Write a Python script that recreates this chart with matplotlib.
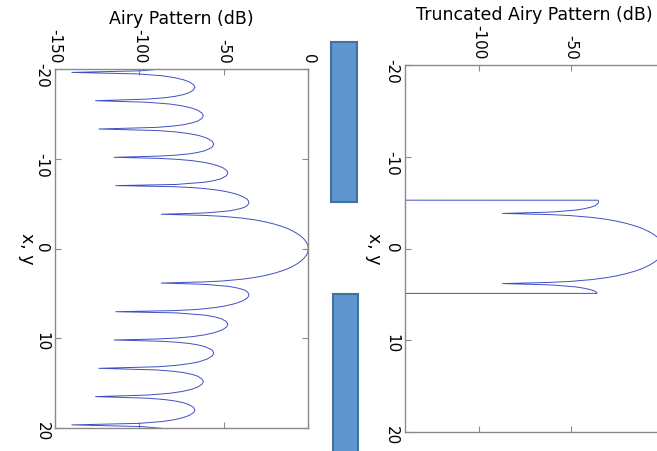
import matplotlib
matplotlib.use("Agg")
import matplotlib.pyplot as plt
import numpy as np
from matplotlib.patches import Rectangle

# Airy pattern in dB (one half, x >= 0; the pattern is symmetric)
pos_half = [0, 0.25, 0.5, 0.75, 1.0, 1.25, 1.5, 1.75, 2.0, 2.25, 2.5, 2.75, 3.0,
            3.2, 3.4, 3.6, 3.7, 3.83, 3.95, 4.0, 4.2, 4.35, 4.5, 4.65, 4.8, 5.0,
            5.14, 5.3, 5.5, 5.75, 6.0, 6.2, 6.4, 6.55, 6.7, 6.8, 6.9, 7.02, 7.15,
            7.4, 7.6, 7.8, 8.1, 8.42, 8.7, 9.0, 9.2, 9.4, 9.6, 9.8, 9.95, 10.05,
            10.17, 10.3, 10.4, 10.55, 10.7, 10.9, 11.25, 11.62, 11.95, 12.3, 12.6,
            12.8, 13.0, 13.15, 13.32, 13.5, 13.65, 13.8, 14.0, 14.2, 14.5, 14.8,
            15.1, 15.4, 15.65, 15.9, 16.1, 16.3, 16.47, 16.65, 16.8, 16.95, 17.15,
            17.35, 17.65, 17.96, 18.25, 18.55, 18.8, 19.05, 19.25, 19.45, 19.62,
            19.8, 20.0]
airy_half = [0, -0.14, -0.55, -1.24, -2.22, -3.51, -5.14, -7.14, -9.56, -12.3,
             -16.0, -20.4, -25.8, -31.5, -39.1, -51.0, -61.4, -87, -64.7, -59.2,
             -47.2, -42.7, -39.5, -37.3, -36.2, -35.3, -35.2, -35.4, -36.2, -38.3,
             -41.4, -45.1, -49.9, -54.9, -62.0, -68.8, -79.9, -114, -78.1, -61.2,
             -55.2, -51.5, -48.6, -47.6, -48.3, -50.5, -53.1, -56.6, -61.5, -68.9,
             -78.0, -88.5, -115, -88.6, -78.9, -70.7, -65.7, -61.3, -57.2, -55.9,
             -56.9, -60.0, -64.8, -70.4, -78.6, -89.5, -124, -90.0, -79.9, -73.8,
             -68.8, -65.5, -63.0, -62.1, -63.0, -65.4, -69.0, -74.7, -82.0, -95.4,
             -126, -95.1, -85.0, -79.1, -74.0, -70.8, -68.1, -67.1, -67.9, -70.3,
             -73.9, -79.5, -86.8, -100.4, -140, -99.2, -86.9]

# truncated pattern (right panel): main lobe plus part of the first side lobes
trunc_pos = [-5.28, -5.27, -5.14, -5.0, -4.8, -4.65, -4.5, -4.35, -4.2, -4.0, -3.95,
             -3.83, -3.7, -3.6, -3.4, -3.2, -3.0, -2.75, -2.5, -2.25, -2.0, -1.75,
             -1.5, -1.25, -1.0, -0.75, -0.5, -0.25, 0, 0.25, 0.5, 0.75, 1.0, 1.25,
             1.5, 1.75, 2.0, 2.25, 2.5, 2.75, 3.0, 3.2, 3.4, 3.6, 3.7, 3.83, 3.95,
             4.0, 4.2, 4.35, 4.5, 4.65, 4.8, 4.9, 4.91]
trunc_db = [-300, -35.4, -35.2, -35.3, -36.2, -37.3, -39.5, -42.7, -47.2, -59.2,
            -64.7, -87, -61.4, -51.0, -39.1, -31.5, -25.8, -20.4, -16.0, -12.3,
            -9.56, -7.14, -5.14, -3.51, -2.22, -1.24, -0.55, -0.14, 0, -0.14, -0.55,
            -1.24, -2.22, -3.51, -5.14, -7.14, -9.56, -12.3, -16.0, -20.4, -25.8,
            -31.5, -39.1, -51.0, -61.4, -87, -64.7, -59.2, -47.2, -42.7, -39.5,
            -37.3, -36.2, -36.0, -300]

pos_ticks = [-20, -10, 0, 10, 20]
db_ticks_left = [-150, -100, -50, 0]
db_ticks_right = [-100, -50, 0]

pos_full = np.concatenate([-np.array(pos_half[:0:-1]), pos_half])
airy_full = np.concatenate([np.array(airy_half[:0:-1]), airy_half])

plt.rcParams["font.family"] = ["DejaVu Sans"]
plt.rcParams["axes.unicode_minus"] = False

line_color = "#3f4fc2"
frame_color = "#8a8a8a"

fig = plt.figure(figsize=(6.57, 4.51), dpi=100)


def rotated_panel(ax, db, pos, xlim, xticks, label, ylab_x):
    """Draws a dB-vs-position trace turned on its side."""
    ax.plot(db, pos, color=line_color, lw=0.7)
    ax.set_xlim(*xlim)
    ax.set_ylim(20, -20)
    ax.set_xticks(xticks)
    ax.set_yticks(pos_ticks)
    ax.xaxis.tick_top()
    ax.xaxis.set_label_position("top")
    ax.tick_params(direction="in", top=True, bottom=True, left=True, right=True,
                   labeltop=True, labelbottom=False, length=4, width=0.8,
                   color=frame_color, labelsize=11, pad=4)
    for t in ax.get_xticklabels():
        t.set_rotation(-90)
    for t in ax.get_yticklabels():
        t.set_rotation(-90)
    for s in ax.spines.values():
        s.set_color(frame_color)
        s.set_linewidth(1.0)
    ax.set_xlabel(label, fontsize=12.5, labelpad=4)
    ax.set_ylabel("x, y", fontsize=12.5, rotation=-90)
    ax.yaxis.set_label_coords(ylab_x, 0.5)


ax1 = fig.add_axes([0.0837, 0.0503, 0.3855, 0.7967])
rotated_panel(ax1, airy_full, pos_full, (-150, 0), db_ticks_left,
              "Airy Pattern (dB)", -0.148)

ax2 = fig.add_axes([0.6158, 0.0428, 0.3944, 0.8124])
rotated_panel(ax2, trunc_db, trunc_pos, (-140, 0), db_ticks_right,
              "Truncated Airy Pattern (dB)", -0.152)

# two aperture blocks between the panels
for x0, y0, w, h in [(0.5038, 0.5521, 0.0396, 0.3548), (0.5061, -0.0089, 0.0388, 0.357)]:
    fig.add_artist(Rectangle((x0, y0), w, h, transform=fig.transFigure,
                             facecolor="#5f96cf", edgecolor="#41719c", lw=1.5))

fig.savefig("out.png", dpi=100)
